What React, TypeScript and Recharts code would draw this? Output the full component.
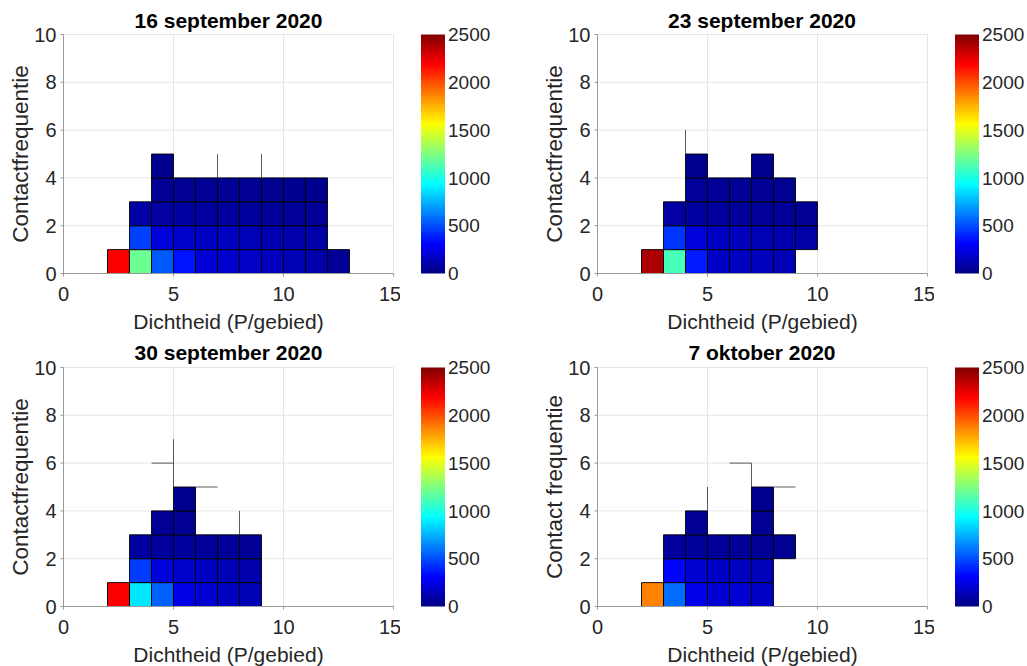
import {
  Bar,
  CartesianGrid,
  ComposedChart,
  Label,
  ReferenceArea,
  ReferenceLine,
  XAxis,
  YAxis,
} from "recharts";

interface Row {
  y: number;
  x0: number;
  values: (number | null)[];
}

type Seg = [number, number, number, number];

const X_TICKS = [0, 5, 10, 15];
const Y_TICKS = [0, 2, 4, 6, 8, 10];
const CBAR_TICKS = [0, 500, 1000, 1500, 2000, 2500];
const CBAR_MAX = 2500;

const SEP16_ROWS: Row[] = [
  { y: 0, x0: 2, values: [2200, 1200, 530, 360, 212, 188, 176, 153, 129, 104, 55] },
  { y: 1, x0: 3, values: [470, 225, 190, 170, 160, 140, 120, 110, 100] },
  { y: 2, x0: 3, values: [92, 88, 84, 80, 75, 70, 65, 60, 55] },
  { y: 3, x0: 4, values: [55, 52, 50, 48, 45, 42, 40, 38] },
  { y: 4, x0: 4, values: [35] },
];
const SEP16_SEGS: Seg[] = [
  [7, 4, 7, 5],
  [9, 4, 9, 5],
];

const SEP23_ROWS: Row[] = [
  { y: 0, x0: 2, values: [2390, 1110, 380, 170, 160, 150, 130] },
  { y: 1, x0: 3, values: [440, 230, 170, 150, 130, 110, 90] },
  { y: 2, x0: 3, values: [90, 80, 70, 65, 60, 55, 50] },
  { y: 3, x0: 4, values: [60, 55, 50, 50, 45] },
  { y: 4, x0: 4, values: [40, null, null, 40] },
];
const SEP23_SEGS: Seg[] = [[4, 5, 4, 6]];

const SEP30_ROWS: Row[] = [
  { y: 0, x0: 2, values: [2200, 880, 550, 250, 200, 160, 130] },
  { y: 1, x0: 3, values: [460, 220, 190, 160, 130, 110] },
  { y: 2, x0: 3, values: [80, 75, 70, 65, 60, 55] },
  { y: 3, x0: 4, values: [50, 45] },
  { y: 4, x0: 5, values: [40] },
];
const SEP30_SEGS: Seg[] = [
  [4, 6, 5, 6],
  [5, 5, 5, 7],
  [6, 5, 7, 5],
  [8, 3, 8, 4],
];

const OCT7_ROWS: Row[] = [
  { y: 0, x0: 2, values: [1870, 580, 260, 210, 200, 170] },
  { y: 1, x0: 3, values: [320, 200, 170, 155, 140] },
  { y: 2, x0: 3, values: [70, 65, 60, 55, 50, 45] },
  { y: 3, x0: 4, values: [50, null, null, 45] },
  { y: 4, x0: 7, values: [40] },
];
const OCT7_SEGS: Seg[] = [
  [6, 6, 7, 6],
  [7, 5, 7, 6],
  [8, 5, 9, 5],
  [5, 4, 5, 5],
];

const FONT = '"Liberation Sans", Arial, Helvetica, sans-serif';
const TEXT = "#262626";
const TICK_FONT = 20;
const LABEL_FONT = 21;

// MATLAB jet colormap
function jet(t: number) {
  const c = (v: number) => Math.round(255 * Math.max(0, Math.min(1, v)));
  const r = c(1.5 - Math.abs(4 * t - 3));
  const g = c(1.5 - Math.abs(4 * t - 2));
  const b = c(1.5 - Math.abs(4 * t - 1));
  return `rgb(${r},${g},${b})`;
}

const JET_STOPS = [0, 0.125, 0.375, 0.625, 0.875, 1];

function ColorBar({ id }: { id: string }) {
  const data = [{ name: "cb", v: CBAR_MAX }];
  return (
    <div style={{ position: "absolute", left: 421, top: 0 }}>
      <ComposedChart
        width={80}
        height={340}
        data={data}
        barCategoryGap={0}
        margin={{ top: 34.5, right: 6, bottom: 66.5, left: 0 }}
      >
        <defs>
          <linearGradient id={id} x1="0" y1="1" x2="0" y2="0">
            {JET_STOPS.map((s) => (
              <stop key={s} offset={s} stopColor={jet(s)} />
            ))}
          </linearGradient>
        </defs>
        <XAxis dataKey="name" hide />
        <YAxis
          orientation="right"
          type="number"
          domain={[0, CBAR_MAX]}
          ticks={CBAR_TICKS}
          width={50}
          axisLine={false}
          tickLine={false}
          tickSize={2}
          tickMargin={1}
          tick={{ fill: TEXT, fontSize: 19, fontFamily: FONT }}
        />
        <Bar dataKey="v" fill={`url(#${id})`} isAnimationActive={false} />
      </ComposedChart>
    </div>
  );
}

interface PanelProps {
  left: number;
  top: number;
  title: string;
  yLabel: string;
  rows: Row[];
  segs: Seg[];
  id: string;
}

function Panel({ left, top, title, yLabel, rows, segs, id }: PanelProps) {
  const cells = rows.flatMap((r) =>
    r.values
      .map((v, i) => (v == null ? null : { x: r.x0 + i, y: r.y, v }))
      .filter((c): c is { x: number; y: number; v: number } => c !== null)
  );

  return (
    <div style={{ position: "absolute", left, top, width: 520, height: 340 }}>
      <div
        style={{
          position: "absolute",
          left: 63.5,
          top: 7.5,
          width: 330,
          textAlign: "center",
          fontFamily: FONT,
          fontWeight: "bold",
          fontSize: 21,
          color: "#000",
          lineHeight: "26px",
        }}
      >
        {title}
      </div>
      <ComposedChart
        width={400}
        height={340}
        data={cells}
        margin={{ top: 34.5, right: 6.5, bottom: 6.5, left: 9 }}
      >
        <CartesianGrid stroke="#e6e6e6" />
        {cells.map((c) => (
          <ReferenceArea
            key={`${c.x}-${c.y}`}
            x1={c.x}
            x2={c.x + 1}
            y1={c.y}
            y2={c.y + 1}
            fill={jet(c.v / CBAR_MAX)}
            fillOpacity={1}
            stroke="#000"
            strokeOpacity={1}
            strokeWidth={0.9}
          />
        ))}
        {segs.map((s) => (
          <ReferenceLine
            key={s.join("-")}
            segment={[
              { x: s[0], y: s[1] },
              { x: s[2], y: s[3] },
            ]}
            stroke="#333"
            strokeWidth={0.8}
          />
        ))}
        <XAxis
          type="number"
          dataKey="x"
          domain={[0, 15]}
          ticks={X_TICKS}
          height={60}
          allowDataOverflow
          axisLine={{ stroke: "#999" }}
          tickLine={{ stroke: "#999" }}
          tickSize={3}
          tickMargin={10}
          tick={{ fill: TEXT, fontSize: TICK_FONT, fontFamily: FONT }}
        >
          <Label
            value="Dichtheid (P/gebied)"
            position="insideBottom"
            offset={5}
            style={{ fill: TEXT, fontSize: LABEL_FONT, fontFamily: FONT }}
          />
        </XAxis>
        <YAxis
          type="number"
          dataKey="y"
          domain={[0, 10]}
          ticks={Y_TICKS}
          width={54.5}
          allowDataOverflow
          axisLine={{ stroke: "#999" }}
          tickLine={{ stroke: "#999" }}
          tickSize={3}
          tickMargin={4}
          tick={{ fill: TEXT, fontSize: TICK_FONT, fontFamily: FONT }}
        >
          <Label
            value={yLabel}
            position="insideLeft"
            angle={-90}
            offset={11}
            style={{
              fill: TEXT,
              fontSize: 22.5,
              fontFamily: FONT,
              textAnchor: "middle",
            }}
          />
        </YAxis>
      </ComposedChart>
      <ColorBar id={`jet-${id}`} />
    </div>
  );
}

export default function App() {
  return (
    <div
      style={{
        position: "absolute",
        left: 0,
        top: 0,
        width: 1027,
        height: 666,
        background: "#fff",
      }}
    >
      <Panel
        id="a"
        left={0}
        top={0}
        title="16 september 2020"
        yLabel="Contactfrequentie"
        rows={SEP16_ROWS}
        segs={SEP16_SEGS}
      />
      <Panel
        id="b"
        left={533.5}
        top={0}
        title="23 september 2020"
        yLabel="Contactfrequentie"
        rows={SEP23_ROWS}
        segs={SEP23_SEGS}
      />
      <Panel
        id="c"
        left={0}
        top={332.5}
        title="30 september 2020"
        yLabel="Contactfrequentie"
        rows={SEP30_ROWS}
        segs={SEP30_SEGS}
      />
      <Panel
        id="d"
        left={533.5}
        top={332.5}
        title="7 oktober 2020"
        yLabel="Contact frequentie"
        rows={OCT7_ROWS}
        segs={OCT7_SEGS}
      />
    </div>
  );
}
